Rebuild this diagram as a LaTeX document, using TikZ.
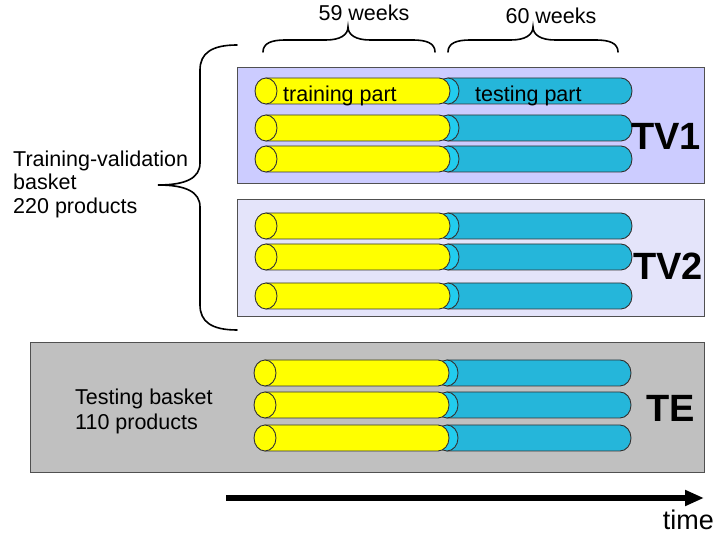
\documentclass[tikz,border=0pt]{standalone}
\usepackage{fontspec}
\setmainfont{Liberation Sans}
\usetikzlibrary{arrows.meta}
\definecolor{tvone}{HTML}{CCCCFF}
\definecolor{tvtwo}{HTML}{E4E4FA}
\definecolor{tegray}{HTML}{C0C0C0}
\definecolor{yel}{HTML}{FFFF00}
\definecolor{tubeblue}{HTML}{25B6DA}
\definecolor{tubecyan}{HTML}{22CCEE}
\definecolor{edge}{HTML}{333333}
\definecolor{boxedge}{HTML}{505050}
\begin{document}
\begin{tikzpicture}[x=1pt,y=1pt,
  box/.style={draw=boxedge, line width=1pt, inner sep=0pt, outer sep=0pt},
  lbl/.style={font=\fontsize{21.5}{24}\selectfont, inner sep=0pt},
  big/.style={font=\fontsize{38}{40}\selectfont\bfseries, inner sep=0pt},
  bracestyle/.style={line width=1.6pt, line cap=round},
  tubeline/.style={draw=edge, line width=0.9pt},
  tube/.pic={
    \path[tubeline, fill=tubeblue] (182,13) -- (355,13) arc[start angle=90,end angle=-90,x radius=11pt,y radius=13pt] -- (182,-13) -- cycle;
    \path[tubeline, fill=tubecyan] (182,0) ellipse[x radius=11pt,y radius=13pt];
    \path[tubeline, fill=yel] (0,13) -- (173,13) arc[start angle=90,end angle=-90,x radius=11pt,y radius=13pt] -- (0,-13) -- cycle;
    \path[tubeline, fill=yel] (0,0) ellipse[x radius=11pt,y radius=13pt];
  }]
\useasboundingbox (0,0) rectangle (717,535);

% boxes
\node[box, fill=tvone, minimum width=467pt, minimum height=116pt] (tv1box) at (470.5,409) {};
\node[box, fill=tvtwo, minimum width=467pt, minimum height=117pt] (tv2box) at (470.5,276.5) {};
\node[box, fill=tegray, minimum width=674pt, minimum height=130pt] (tebox) at (367,127) {};

% tubes TV1
\pic at (266,444) {tube};
\pic at (266,407) {tube};
\pic at (266,376) {tube};
% tubes TV2
\pic at (266,309) {tube};
\pic at (266,278) {tube};
\pic at (266,239) {tube};
% tubes TE
\pic at (265,162) {tube};
\pic at (265,130) {tube};
\pic at (265,97) {tube};

% tube labels
\node[lbl, anchor=base west] (trn) at (283,433) {training part};
\node[lbl, anchor=base west] (tst) at (475,433) {testing part};

% big labels
\node[big] (tv1) at (666,399) {TV1};
\node[big] (tv2) at (668,269) {TV2};
\node[big] (te) at (671,127) {TE};

% week labels and braces
\node[lbl, anchor=base] (w59) at (364,514) {59 weeks};
\node[lbl, anchor=base] (w60) at (551,511) {60 weeks};
\draw[bracestyle] (263,483) .. controls (263,492) and (272,495) .. (285,495) -- (326,495)
  .. controls (340,495) and (348,500) .. (348,508)
  .. controls (348,500) and (356,495) .. (370,495) -- (413,495)
  .. controls (426,495) and (435,492) .. (435,483);
\draw[bracestyle] (448,483) .. controls (448,492) and (457,495) .. (470,495) -- (511,495)
  .. controls (525,495) and (533,500) .. (533,508)
  .. controls (533,500) and (541,495) .. (555,495) -- (596,495)
  .. controls (609,495) and (618,492) .. (618,483);

% left brace
\draw[bracestyle] (237,490) .. controls (212,490) and (200,482) .. (200,465) -- (200,372)
  .. controls (200,357) and (186,350) .. (158,350)
  .. controls (186,350) and (200,343) .. (200,328) -- (200,230)
  .. controls (200,213) and (212,205) .. (237,205);

% left texts
\node[lbl, anchor=base west] (tvl1) at (13,368) {Training-validation};
\node[lbl, anchor=base west] (tvl2) at (13,345) {basket};
\node[lbl, anchor=base west] (tvl3) at (13,321) {220 products};
\node[lbl, anchor=base west] (tel1) at (75,130) {Testing basket};
\node[lbl, anchor=base west] (tel2) at (75,105) {110 products};

% time arrow
\coordinate (ta) at (226,37);
\coordinate (tb) at (704,37);
\draw[line width=5.5pt, -{Triangle[length=19pt,width=15pt]}] (ta) -- (tb);
\node[anchor=east, font=\fontsize{27}{30}\selectfont, inner sep=0pt] (time) at (714,15) {time};
\end{tikzpicture}
\end{document}
